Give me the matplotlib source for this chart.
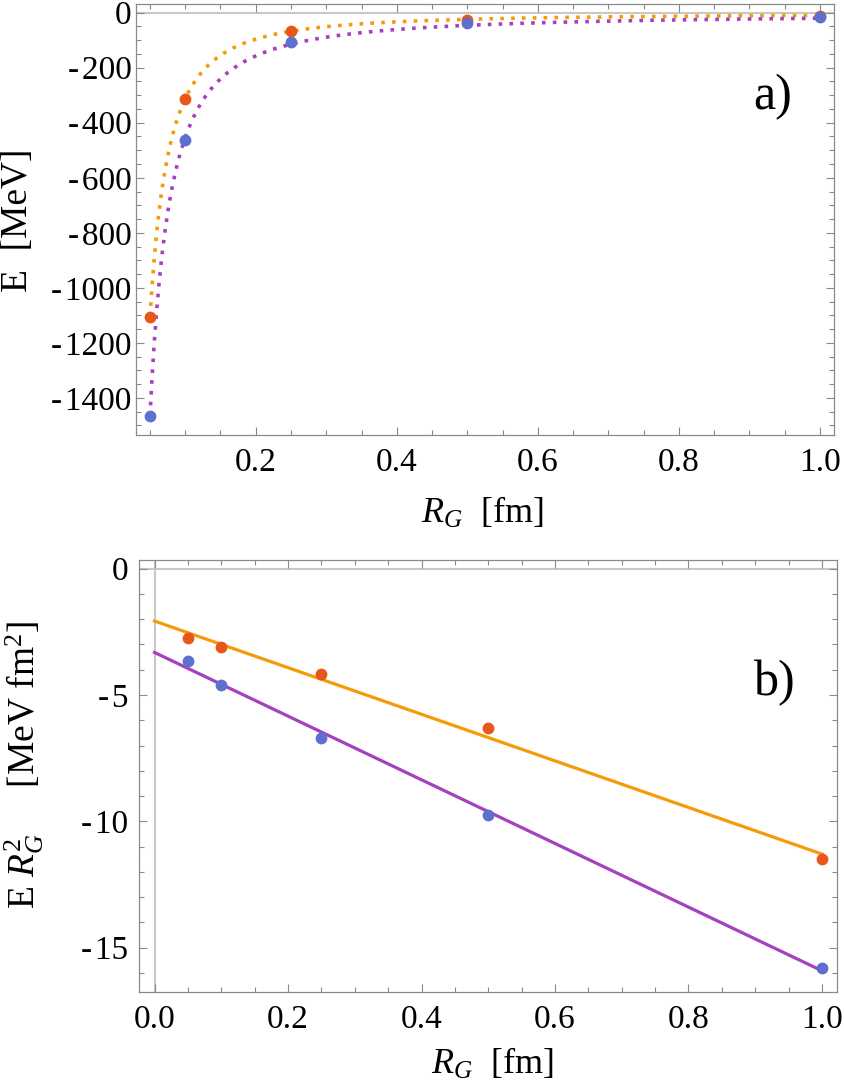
import matplotlib
matplotlib.use('Agg')
import matplotlib.pyplot as plt
import numpy as np
from matplotlib.ticker import MultipleLocator, FuncFormatter

# ---- data ----
R = [0.05, 0.1, 0.25, 0.5, 1.0]
E_orange = [-1105, -312, -67, -25.3, -11.5]
E_blue = [-1465, -462, -107, -39, -15.8]

plt.rcParams['font.family'] = ['Liberation Serif', 'DejaVu Serif']
plt.rcParams['mathtext.fontset'] = 'custom'
plt.rcParams['mathtext.rm'] = 'Liberation Serif'
plt.rcParams['mathtext.it'] = 'Liberation Serif:italic'
plt.rcParams['axes.unicode_minus'] = False

C_OR_LINE = '#F59B0A'
C_OR_PT = '#E8561A'
C_BL_PT = '#5F6FCD'
C_PU_LINE = '#A540BE'
FRAME = '#8a8a8a'
ZERO = '#c8c8c8'

R_a = np.array(R)
Eo = np.array(E_orange)
Eb = np.array(E_blue)

fig = plt.figure(figsize=(8.44, 10.85), dpi=100)
ax1 = fig.add_axes([0.16114, 0.59908, 0.8274, 0.39696])
ax2 = fig.add_axes([0.16505, 0.08599, 0.82666, 0.39788])


def fmt_int(v, p):
    if abs(v) < 1e-9:
        return "0"
    s = f"{abs(v):.0f}"
    return ("-\u200a" + s) if v < 0 else s


def style(ax):
    for s in ax.spines.values():
        s.set_color(FRAME)
        s.set_linewidth(0.9)
    ax.tick_params(which='both', direction='in', top=True, right=True,
                   color=FRAME, width=0.8, labelsize=24)
    ax.tick_params(which='major', length=6)
    ax.tick_params(which='minor', length=3.5)


# ---- panel a ----
def fit_inv(Rv, Ev):
    A = np.vstack([1 / Rv**2, 1 / Rv]).T
    coef, *_ = np.linalg.lstsq(A, Ev, rcond=None)
    return coef

rr = np.linspace(0.05, 1.0, 600)
co = fit_inv(R_a, Eo)
cb = fit_inv(R_a, Eb)
ax1.axhline(0, color=ZERO, lw=1.5, zorder=1)
ax1.plot(rr, co[0] / rr**2 + co[1] / rr, color=C_OR_LINE, lw=2.6,
         linestyle=(0, (1, 2)), zorder=2)
ax1.plot(rr, cb[0] / rr**2 + cb[1] / rr, color=C_PU_LINE, lw=2.6,
         linestyle=(0, (1, 2)), zorder=2)
ax1.plot(R_a, Eo, 'o', color=C_OR_PT, ms=8.5, mec='none', zorder=3)
ax1.plot(R_a, Eb, 'o', color=C_BL_PT, ms=8.5, mec='none', zorder=3)
ax1.set_xlim(0.0302, 1.0205)
ax1.set_ylim(-1535, 30.5)
ax1.xaxis.set_major_locator(MultipleLocator(0.2))
ax1.xaxis.set_minor_locator(MultipleLocator(0.05))
ax1.yaxis.set_major_locator(MultipleLocator(200))
ax1.yaxis.set_minor_locator(MultipleLocator(50))
ax1.xaxis.set_major_formatter(FuncFormatter(lambda v, p: f"{v:.1f}"))
ax1.yaxis.set_major_formatter(FuncFormatter(fmt_int))
style(ax1)
ax1.tick_params(axis='y', pad=3)
ax1.tick_params(axis='x', pad=9)
ax1.text(0.912, 0.785, 'a)', transform=ax1.transAxes, fontsize=36,
         ha='center', va='center')
fig.text(18 / 844, 1 - 220 / 1085, 'E  [MeV]', rotation=90, fontsize=27,
         ha='center', va='center')
fig.text(482 / 844, 1 - 513 / 1085, '$R_G$  [fm]', fontsize=26,
         ha='center', va='center')

# ---- panel b ----
Yo = Eo * R_a**2
Yb = Eb * R_a**2
po = np.polyfit(R_a, Yo, 1)
pb = np.polyfit(R_a, Yb, 1)
xx = np.linspace(0, 1, 50)
ax2.axhline(0, color=ZERO, lw=1.5, zorder=1)
ax2.axvline(0, color=ZERO, lw=1.5, zorder=1)
ax2.plot(xx, np.polyval(po, xx), color=C_OR_LINE, lw=2.3, zorder=2)
ax2.plot(xx, np.polyval(pb, xx), color=C_PU_LINE, lw=2.3, zorder=2)
ax2.plot(R_a, Yo, 'o', color=C_OR_PT, ms=8.5, mec='none', zorder=3)
ax2.plot(R_a, Yb, 'o', color=C_BL_PT, ms=8.5, mec='none', zorder=3)
ax2.set_xlim(-0.0228, 1.0225)
ax2.set_ylim(-16.74, 0.34)
ax2.xaxis.set_major_locator(MultipleLocator(0.2))
ax2.xaxis.set_minor_locator(MultipleLocator(0.05))
ax2.yaxis.set_major_locator(MultipleLocator(5))
ax2.yaxis.set_minor_locator(MultipleLocator(1))
ax2.xaxis.set_major_formatter(FuncFormatter(lambda v, p: f"{v:.1f}"))
ax2.yaxis.set_major_formatter(FuncFormatter(fmt_int))
style(ax2)
ax2.tick_params(axis='y', pad=8)
ax2.tick_params(axis='x', pad=9)
ax2.text(0.911, 0.715, 'b)', transform=ax2.transAxes, fontsize=36,
         ha='center', va='center')
fig.text(24 / 844, 1 - 765 / 1085, 'E $R_G^2$     [MeV fm$^2$]', rotation=90,
         fontsize=27, ha='center', va='center')
fig.text(492 / 844, 1 - 1064 / 1085, '$R_G$  [fm]', fontsize=26,
         ha='center', va='center')

fig.savefig('out.png', dpi=100)
